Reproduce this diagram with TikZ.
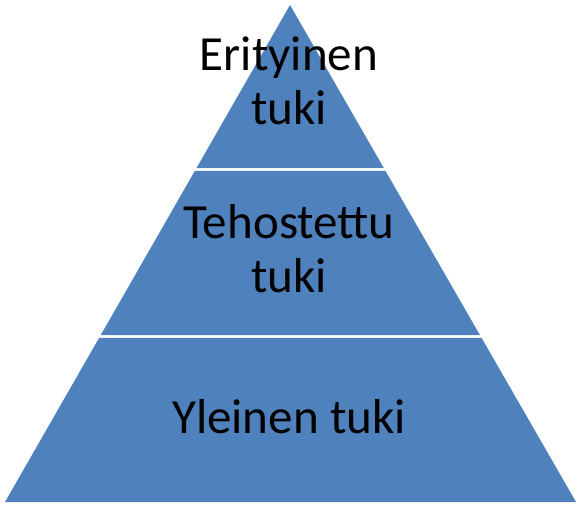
\documentclass[tikz,border=0pt]{standalone}
\usepackage{fontspec}
\setmainfont{Carlito}
\usetikzlibrary{calc}
\definecolor{layerblue}{HTML}{4F81BD}

\begin{document}
\begin{tikzpicture}[x=0.75pt, y=-0.75pt,
    layer/.style={fill=layerblue, draw=none},
    label/.style={anchor=base, align=center, inner sep=0pt,
        font=\fontsize{36.8}{40.5}\selectfont}]
    \useasboundingbox (0,0) rectangle (579,506);

    \coordinate (Apex) at (290,5);
    \coordinate (BaseL) at (5,502);
    \coordinate (BaseR) at (576,502);

    \coordinate (TopL) at ($(Apex)!0.328!(BaseL)$);
    \coordinate (TopR) at ($(Apex)!0.328!(BaseR)$);
    \coordinate (MidTopL) at ($(Apex)!0.334!(BaseL)$);
    \coordinate (MidTopR) at ($(Apex)!0.334!(BaseR)$);
    \coordinate (MidBotL) at ($(Apex)!0.664!(BaseL)$);
    \coordinate (MidBotR) at ($(Apex)!0.664!(BaseR)$);
    \coordinate (LowTopL) at ($(Apex)!0.670!(BaseL)$);
    \coordinate (LowTopR) at ($(Apex)!0.670!(BaseR)$);

    \fill[layer] (Apex) -- (TopR) -- (TopL) -- cycle;
    \fill[layer] (MidTopL) -- (MidTopR) -- (MidBotR) -- (MidBotL) -- cycle;
    \fill[layer] (LowTopL) -- (LowTopR) -- (BaseR) -- (BaseL) -- cycle;

    % base anchor sits on the last line
    \node[label] (erityinen) at (289,125) {Erityinen\\tuki};
    \node[label] (tehostettu) at (289,293) {Tehostettu\\tuki};
    \node[label] (yleinen) at (289,433) {Yleinen tuki};
\end{tikzpicture}
\end{document}
